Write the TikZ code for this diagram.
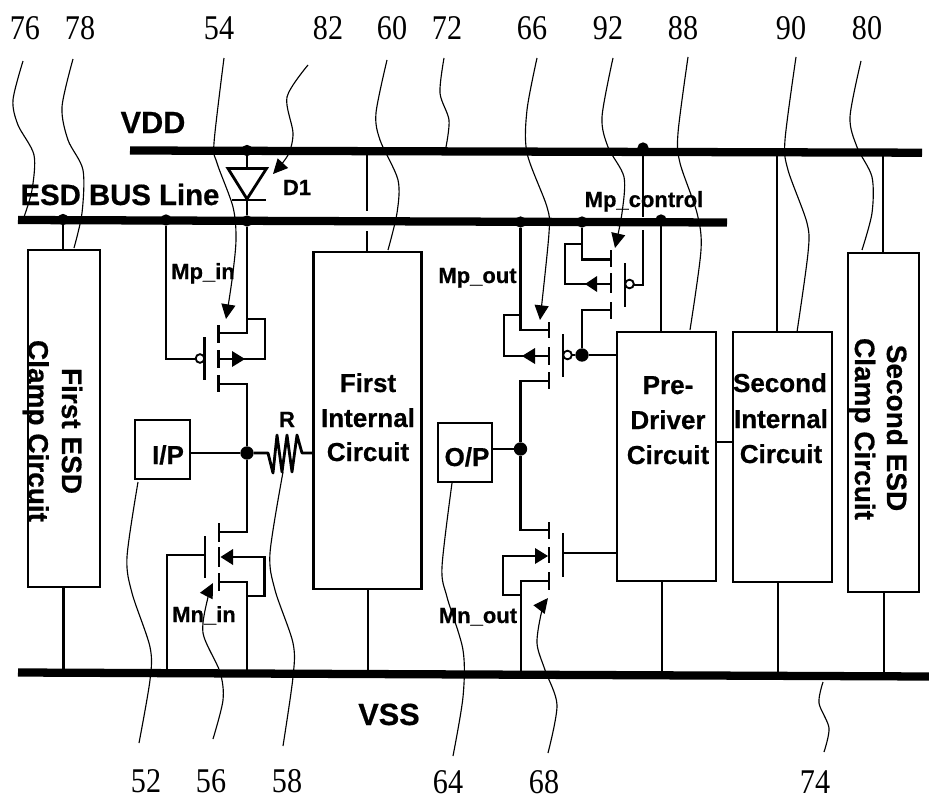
\documentclass[tikz,border=0pt]{standalone}
\usepackage{fontspec}
\setmainfont{Liberation Serif}
\newfontfamily\sbf[BoldFont={Liberation Sans Bold},BoldFeatures={FakeBold=0.6}]{Liberation Sans}
\usetikzlibrary{arrows.meta}
\tikzset{
  wire/.style={line width=2.1pt,line cap=butt,line join=miter},
  bus/.style={line width=6.2pt},
  lead/.style={line width=0.85pt},
  leadarrow/.style={lead,-{Triangle[length=11pt,width=10.5pt]}},
  gatebar/.style={line width=2pt},
  chan/.style={line width=2.1pt},
  blockbox/.style={draw,line width=2.1pt,fill=white,inner sep=0pt},
  dotbig/.style={circle,fill=black,inner sep=0pt,minimum size=10pt},
  dotsmall/.style={circle,fill=black,inner sep=0pt,minimum size=8.5pt},
  bubble/.style={circle,draw,line width=1.4pt,fill=white,inner sep=0pt,minimum size=6.5pt},
  num/.style={anchor=base,inner sep=0pt,xscale=0.87,font=\fontsize{26}{26}\selectfont},
  tag/.style={anchor=base,inner sep=0pt,font=\sbf\bfseries\fontsize{16.5}{16.5}\selectfont},
  head/.style={anchor=base,inner sep=0pt,font=\sbf\bfseries\fontsize{23}{23}\selectfont},
  headb/.style={anchor=base,inner sep=0pt,font=\sbf\bfseries\fontsize{22}{22}\selectfont},
  blocktxt/.style={anchor=base,inner sep=0pt,font=\sbf\bfseries\fontsize{19.5}{19.5}\selectfont},
  rottxt/.style={anchor=base,inner sep=0pt,rotate=-90,font=\sbf\bfseries\fontsize{21}{21}\selectfont},
}
\begin{document}
\begin{tikzpicture}[x=0.75pt,y=-0.75pt]
\useasboundingbox (0,0) rectangle (929,796);

% buses
\draw[bus] (130,150.5) coordinate (vddL) -- (922,152.7) coordinate (vddR);
\draw[bus] (18,220) coordinate (esdL) -- (727,222.5) coordinate (esdR);
\draw[bus] (18,672.5) coordinate (vssL) -- (929,676.5) coordinate (vssR);

% blocks
\node[blockbox,minimum width=54pt,minimum height=252.75pt] (clampA) at (64,418.5) {};
\node[blockbox,minimum width=81.5pt,minimum height=252.75pt] (intA) at (367.5,420.5) {};
\node[blockbox,minimum width=41.25pt,minimum height=44.25pt] (ip) at (162.5,449.5) {};
\node[blockbox,minimum width=40.5pt,minimum height=44.25pt] (op) at (465,452.5) {};
\node[blockbox,minimum width=74.25pt,minimum height=186.75pt] (pre) at (666.5,456.5) {};
\node[blockbox,minimum width=74.25pt,minimum height=187.5pt] (intB) at (782.5,457) {};
\node[blockbox,minimum width=53.25pt,minimum height=254.25pt] (clampB) at (883.5,422.5) {};

% junction dots
\node[dotsmall] (jA) at (63,219.5) {};
\node[dotsmall] (jB) at (166,220) {};
\node[dotsmall] (jC) at (247,221) {};
\node[dotsmall] (jD) at (247,150.5) {};
\node[dotsmall] (jE) at (520.5,222) {};
\node[dotsmall] (jF) at (582,222) {};
\node[dotsmall] (jG) at (661,220) {};
\node[dotsmall] (jH) at (643,148) {};
\node[dotbig] (jI) at (247,453) {};
\node[dotbig] (jO) at (520.5,449) {};
\node[dotbig] (jP) at (582,355) {};

% block supply wires
\draw[wire] (jA) -- (jA |- clampA.north);
\draw[wire] (63.5,587) -- (63.5,672);
\draw[wire] (367,153) -- (367,211);
\draw[wire] (367,231) -- (367,252);
\draw[wire] (368,589) -- (368,673);
\draw[wire] (jG) -- (jG |- pre.north);
\draw[wire] (662,581) -- (662,674);
\draw[wire] (777,153) -- (777,332);
\draw[wire] (778,582) -- (778,675);
\draw[wire] (883,153) -- (883,253);
\draw[wire] (884,592) -- (884,676);
\draw[wire] (pre.east |- 0,442) -- (intB.west |- 0,442);

% diode D1
\coordinate (dTop) at (247,168);
\coordinate (dTip) at (247,199);
\draw[wire] (jD) -- (dTop);
\draw[wire,line join=miter] (228,168.5) -- (266.5,168.5) -- (dTip) -- cycle;
\draw[gatebar] (232,200) -- (266,200);
\draw[wire] (dTip) -- (jC);

% Mp_in
\draw[wire] (jB) -- (166,359) -- (196,359);
\node[bubble] (bA) at (200,358.5) {};
\draw[gatebar] (204.5,337) -- (204.5,380);
\draw[chan] (218.5,325) -- (218.5,343) (218.5,350) -- (218.5,368) (218.5,375) -- (218.5,392);
\draw[wire] (jC) -- (247,333) -- (218.5,333);
\draw[wire] (247,319) -- (265,319) -- (265,359) -- (218.5,359);
\fill (232,351) -- (245,359) -- (232,367) -- cycle;
\draw[wire] (218.5,384) -- (247,384) -- (jI) -- (247,532) -- (219,532);

% I/P and R
\draw[wire] (ip.east |- jI) -- (jI);
\draw[wire,line join=round] (jI) -- (268,453) -- (273,473) -- (277,435) -- (282,472) -- (287,435) -- (292,472) -- (297,435) -- (302,453) -- (intA.west |- 0,453);

% Mn_in
\draw[chan] (219,523) -- (219,542) (219,547) -- (219,567) (219,573) -- (219,591);
\draw[gatebar] (205,536) -- (205,578);
\draw[wire] (205,555) -- (167,555) -- (167,672);
\draw[wire] (232,557) -- (264.5,557) -- (264.5,596) -- (247,596);
\fill (233,549) -- (220.5,557) -- (233,565) -- cycle;
\draw[wire] (219,582) -- (247,582) -- (247,673);

% Mp_control
\draw[wire] (jH) -- (643,217);
\draw[wire] (643,230) -- (643,285) -- (633,285);
\node[bubble] (bB) at (629.5,284) {};
\draw[gatebar] (625,263) -- (625,307);
\draw[chan] (611,250) -- (611,267) (611,273) -- (611,293) (611,302) -- (611,319);
\draw[wire] (jF) -- (582,259.5) -- (611,259.5);
\draw[wire] (582,244) -- (565,244) -- (565,284) -- (611,284);
\fill (597,276) -- (585,284) -- (597,292) -- cycle;
\draw[wire] (611,310) -- (582,310) -- (jP);

% Mp_out
\draw[wire] (pre.west |- jP) -- (jP) -- (572,355);
\node[bubble] (bC) at (567.5,355) {};
\draw[gatebar] (563,334) -- (563,377);
\draw[chan] (549,322) -- (549,338) (549,347) -- (549,365) (549,372) -- (549,389);
\draw[wire] (jE) -- (520.5,330) -- (549,330);
\draw[wire] (520.5,315) -- (504,315) -- (504,356) -- (549,356);
\fill (535,348) -- (522,356) -- (535,364) -- cycle;
\draw[wire] (549,381) -- (520.5,381) -- (jO);

% O/P
\draw[wire] (op.east |- jO) -- (jO);

% Mn_out
\draw[wire] (jO) -- (520.5,530) -- (549,530);
\draw[chan] (549,522) -- (549,539) (549,547) -- (549,563) (549,572) -- (549,590);
\draw[gatebar] (563,533) -- (563,577);
\draw[wire] (563,553) -- (pre.west |- 0,553);
\draw[wire] (535,556) -- (503,556) -- (503,595) -- (521,595);
\fill (535,548) -- (548,556) -- (535,564) -- cycle;
\draw[wire] (549,581) -- (521,581) -- (521,673);

% leaders
\draw[lead] plot[smooth] coordinates {(23,61) (13,100) (18,125) (34,155) (32,190) (24,217)};
\draw[lead] plot[smooth] coordinates {(73,59) (62,107) (68,140) (83,170) (82,213) (74,248)};
\draw[leadarrow] plot[smooth] coordinates {(224,58) (214,143) (217,163) (233,207) (236,240) (232,280) (226,319)};
\draw[leadarrow] plot[smooth] coordinates {(308,65) (287,97) (293,133) (288,155) (273,174)};
\draw[lead] plot[smooth] coordinates {(387,60) (376,113) (380,140) (398,180) (397,213) (388,250)};
\draw[lead] plot[smooth] coordinates {(444,58) (440,93) (449,120) (446,147)};
\draw[leadarrow] plot[smooth] coordinates {(537,58) (527,110) (527,153) (547,207) (549,233) (540,320)};
\draw[leadarrow] plot[smooth] coordinates {(613,58) (602,117) (608,147) (624,177) (622,213) (615,248)};
\draw[lead] plot[smooth] coordinates {(688,57) (678,133) (680,163) (697,213) (701,250) (690,330)};
\draw[lead] plot[smooth] coordinates {(796,57) (785,140) (788,170) (807,223) (808,253) (797,332)};
\draw[lead] plot[smooth] coordinates {(861,61) (850,117) (857,147) (872,177) (872,213) (862,250)};
\draw[lead] plot[smooth] coordinates {(138,482) (127,557) (132,593) (150,647) (150,680) (139,743)};
\draw[leadarrow] plot[smooth] coordinates {(213,739) (223,700) (220,672) (203,633) (208,597) (213,583)};
\draw[lead] plot[smooth] coordinates {(283,472) (270,553) (275,590) (293,643) (293,677) (283,746)};
\draw[lead] plot[smooth] coordinates {(452,483) (442,567) (447,597) (463,650) (463,697) (453,756)};
\draw[leadarrow] plot[smooth] coordinates {(548,753) (557,705) (545,670) (537,643) (542,610) (548,598)};
\draw[lead] plot[smooth] coordinates {(823,682) (819,703) (829,728) (824,752)};

% reference numbers
\node[num] (n76) at (25,40) {76};
\node[num] (n78) at (80,40) {78};
\node[num] (n54) at (219,40) {54};
\node[num] (n82) at (328,40) {82};
\node[num] (n60) at (392,40) {60};
\node[num] (n72) at (447,40) {72};
\node[num] (n66) at (532,40) {66};
\node[num] (n92) at (608,40) {92};
\node[num] (n88) at (683,40) {88};
\node[num] (n90) at (791,40) {90};
\node[num] (n80) at (867,40) {80};
\node[num] (n52) at (146,792) {52};
\node[num] (n56) at (211,792) {56};
\node[num] (n58) at (287,792) {58};
\node[num] (n64) at (448,793) {64};
\node[num] (n68) at (544,793) {68};
\node[num] (n74) at (815,793) {74};

% labels
\node[head] (tVDD) at (153,133) {VDD};
\node[headb] (tESD) at (120,205) {ESD BUS Line};
\node[head] (tVSS) at (389,725) {VSS};
\node[tag] (tD1) at (297,195) {D1};
\node[tag] (tMpin) at (203,279) {Mp\_in};
\node[tag] (tMpout) at (477.5,283) {Mp\_out};
\node[tag] (tMpc) at (644,207) {Mp\_control};
\node[tag] (tMnin) at (204,622) {Mn\_in};
\node[tag] (tMnout) at (478,623) {Mn\_out};
\node[tag] (tR) at (287,427) {R};

\node[blocktxt] (a1) at (368,392) {First};
\node[blocktxt] (a2) at (368,427) {Internal};
\node[blocktxt] (a3) at (368,461) {Circuit};
\node[blocktxt] (b1) at (668,394) {Pre-};
\node[blocktxt] (b2) at (668,429) {Driver};
\node[blocktxt] (b3) at (668,464) {Circuit};
\node[blocktxt] (c1) at (780,392) {Second};
\node[blocktxt] (c2) at (781,428) {Internal};
\node[blocktxt] (c3) at (781,463) {Circuit};
\node[blocktxt] (tIP) at (168,464) {I/P};
\node[blocktxt] (tOP) at (467,466) {O/P};

\node[rottxt] (r1) at (62,431) {First ESD};
\node[rottxt] (r2) at (28.5,431) {Clamp Circuit};
\node[rottxt] (r3) at (887,428) {Second ESD};
\node[rottxt] (r4) at (855,429) {Clamp Circuit};
\end{tikzpicture}
\end{document}
